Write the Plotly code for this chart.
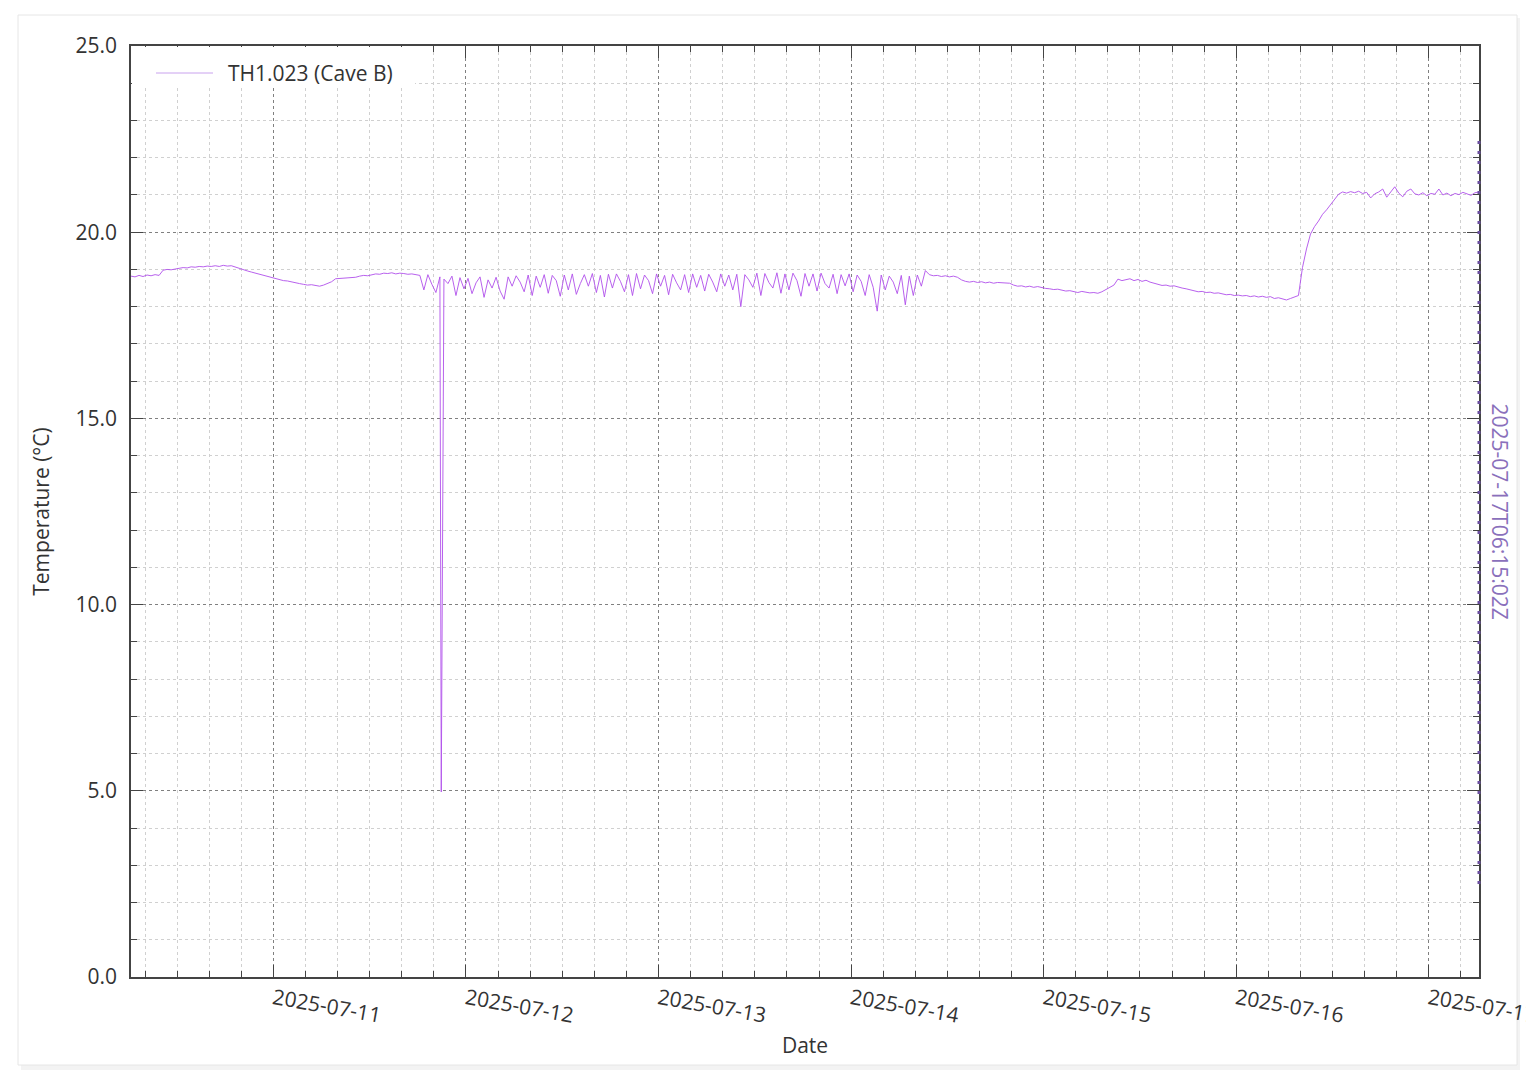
import pandas as pd
import plotly.graph_objects as go

# ---------------- data ----------------
series_name = "TH1.023 (Cave B)"
start_time = "2025-07-10T06:15:02"
end_time = "2025-07-17T06:15:02"
step = "30min"

# temperatures (°C), one reading every 30 minutes from start_time
temps = [
    # 07-10 06:15 ..
    18.82, 18.80, 18.84, 18.81, 18.85, 18.83, 18.86, 18.84, 18.98, 19.00, 18.99, 19.02,
    19.03, 19.05, 19.04, 19.07, 19.06, 19.08, 19.07, 19.09, 19.08, 19.10, 19.08, 19.11,
    19.09, 19.10, 19.06, 19.03, 19.00, 18.96, 18.93, 18.90, 18.88, 18.84, 18.82, 18.79,
    18.76, 18.74, 18.70, 18.69, 18.66, 18.65, 18.62, 18.60, 18.58, 18.59, 18.56, 18.55,
    18.58, 18.62, 18.67, 18.75, 18.76, 18.78, 18.77, 18.80, 18.79, 18.82, 18.84, 18.83,
    18.86, 18.88, 18.87, 18.90, 18.89, 18.91, 18.88, 18.90, 18.89, 18.87, 18.88, 18.86,
    # noisy section
    18.84, 18.45, 18.86, 18.60, 18.38, 18.80, 18.74, 18.62, 18.82, 18.30, 18.78, 18.48,
    18.76, 18.35, 18.64, 18.80, 18.25, 18.72, 18.50, 18.79, 18.42, 18.20, 18.80, 18.55,
    18.83, 18.66, 18.40, 18.85, 18.30, 18.82, 18.52, 18.86, 18.36, 18.84, 18.70, 18.28,
    18.85, 18.45, 18.88, 18.33, 18.62, 18.86, 18.55, 18.89, 18.38, 18.84, 18.26, 18.87,
    18.50, 18.88, 18.68, 18.40, 18.86, 18.30, 18.89, 18.48, 18.85, 18.70, 18.35, 18.88,
    18.55, 18.84, 18.32, 18.87, 18.64, 18.45, 18.86, 18.38, 18.88, 18.52, 18.84, 18.42,
    18.87, 18.66, 18.40, 18.88, 18.55, 18.85, 18.45, 18.87, 18.00, 18.86, 18.72, 18.52,
    18.90, 18.30, 18.89, 18.65, 18.50, 18.91, 18.36, 18.88, 18.45, 18.90, 18.70, 18.28,
    18.89, 18.55, 18.88, 18.42, 18.90, 18.62, 18.50, 18.87, 18.35, 18.86, 18.56, 18.88,
    18.40, 18.85, 18.68, 18.30, 18.86, 18.52, 17.88, 18.85, 18.45, 18.82, 18.66, 18.35,
    18.84, 18.05, 18.82, 18.30, 18.85, 18.55, 18.97, 18.86, 18.83, 18.84, 18.81, 18.83,
    18.80,
    # slow decline
    18.82, 18.79, 18.72, 18.68, 18.66, 18.68, 18.65, 18.67, 18.64, 18.66, 18.63, 18.65,
    18.64, 18.62, 18.63, 18.58, 18.55, 18.56, 18.53, 18.55, 18.52, 18.54, 18.51, 18.49,
    18.48, 18.46, 18.47, 18.44, 18.42, 18.43, 18.40, 18.38, 18.41, 18.39, 18.37, 18.38,
    18.36, 18.40, 18.45, 18.52, 18.58, 18.74, 18.70, 18.72, 18.75, 18.70, 18.73, 18.68,
    18.71, 18.66, 18.63, 18.60, 18.57, 18.58, 18.55, 18.56, 18.52, 18.50, 18.48, 18.45,
    18.42, 18.40, 18.41, 18.38, 18.39, 18.36, 18.37, 18.34, 18.32, 18.33, 18.30, 18.31,
    18.29, 18.30, 18.27, 18.29, 18.26, 18.28, 18.25, 18.27, 18.22, 18.24, 18.20, 18.18,
    # warm-up and plateau
    18.22, 18.27, 18.30, 19.05, 19.55, 19.95, 20.15, 20.30, 20.48, 20.60, 20.75, 20.90,
    21.02, 21.08, 21.05, 21.09, 21.06, 21.10, 21.04, 21.07, 20.92, 21.03, 21.08, 21.16,
    20.94, 21.08, 21.22, 21.05, 20.95, 21.10, 21.16, 21.03, 21.00, 21.06, 20.98, 21.04,
    21.02, 21.16, 21.00, 21.05, 20.98, 21.04, 21.01, 21.07, 21.03, 20.99, 21.06, 21.08,
]

# isolated sensor dropout
spike_times = ["2025-07-11T20:55:02"]
spike_temps = [4.97]

marker_time = "2025-07-17T06:15:02"
marker_label = "2025-07-17T06:15:02Z"
marker_range = [2.5, 22.5]

y_range = [0, 25]

# ---------------- build ----------------
times = pd.date_range(start_time, periods=len(temps), freq=step)
df = pd.DataFrame({"t": times, "v": temps})
df = pd.concat([df, pd.DataFrame({"t": pd.to_datetime(spike_times), "v": spike_temps})])
df = df.sort_values("t")

FONT = "Open Sans"
TXT = "#333333"
FS = 21

fig = go.Figure()
fig.add_trace(go.Scatter(
    x=df["t"], y=df["v"], mode="lines", name=series_name,
    line=dict(color="rgba(176, 80, 235, 0.9)", width=1),
    showlegend=False,
))

W, H = 1526, 1069
OFF = 8  # page body offset
ml, mr, mt, mb = 123, 55, 38, 100
pw, ph = W - ml - mr, H - mt - mb


def px_x(p):  # page pixel -> paper x
    return (p - OFF - ml) / pw


def px_y(p):  # page pixel -> paper y
    return (H - mb - (p - OFF)) / ph


# card background
fig.add_shape(type="rect", xref="paper", yref="paper",
              x0=px_x(21), x1=px_x(1520), y0=px_y(1070), y1=px_y(18),
              fillcolor="#f3f3f3", line=dict(width=0), layer="below")
fig.add_shape(type="rect", xref="paper", yref="paper",
              x0=px_x(18), x1=px_x(1517), y0=px_y(1065), y1=px_y(15),
              fillcolor="white", line=dict(color="#e6e6e6", width=1), layer="below")

# legend (box, line sample, label)
fig.add_shape(type="rect", xref="paper", yref="paper",
              x0=px_x(132), x1=px_x(415), y0=px_y(88), y1=px_y(47),
              fillcolor="white", line=dict(width=0), layer="above")
fig.add_shape(type="line", xref="paper", yref="paper",
              x0=px_x(156), x1=px_x(213), y0=px_y(73), y1=px_y(73),
              line=dict(color="#c9a2ee", width=1), layer="above")
fig.add_annotation(x=px_x(226), y=px_y(73), xref="paper", yref="paper",
                   text=series_name, showarrow=False, xanchor="left", yanchor="middle",
                   font=dict(family=FONT, size=FS, color=TXT))

# marker line (paper-referenced so it is not clipped at the plot edge)
t0, t1, tm = pd.Timestamp(start_time), pd.Timestamp(end_time), pd.Timestamp(marker_time)
mx = (tm - t0) / (t1 - t0)
my0 = (marker_range[0] - y_range[0]) / (y_range[1] - y_range[0])
my1 = (marker_range[1] - y_range[0]) / (y_range[1] - y_range[0])
fig.add_shape(type="line", xref="paper", yref="paper",
              x0=mx, x1=mx, y0=my0, y1=my1,
              line=dict(color="#6a4f9e", width=3, dash="3px,7px"), layer="above")
fig.add_annotation(x=mx, y=0.5, xref="paper", yref="paper",
                   text=marker_label, textangle=90, showarrow=False,
                   xanchor="left", yanchor="middle", xshift=5,
                   font=dict(family=FONT, size=FS, color="#8a70bb"))

axis_common = dict(
    showline=True, linecolor="#444444", linewidth=1.5, mirror="allticks",
    ticks="inside", ticklen=12, tickcolor="#444444", tickwidth=1,
    showgrid=True, gridcolor="#808080", griddash="dot", gridwidth=1,
    zeroline=False, automargin=False,
    tickfont=dict(family=FONT, size=FS, color=TXT),
)

fig.update_xaxes(
    **axis_common,
    type="date", range=[start_time, end_time],
    tick0="2025-07-10", dtick=86400000, tickformat="%Y-%m-%d", tickangle=10,
    ticklabeloverflow="allow",
    minor=dict(dtick=4 * 3600000, ticks="inside", ticklen=6, tickcolor="#444444",
               showgrid=True, gridcolor="#d0d0d0", griddash="dot", gridwidth=1),
    title=dict(text="Date", font=dict(family=FONT, size=FS, color=TXT), standoff=11),
)
fig.update_yaxes(
    **axis_common,
    range=y_range, dtick=5, tick0=0, tickformat=".1f", ticklabelstandoff=8,
    minor=dict(dtick=1, ticks="inside", ticklen=6, tickcolor="#444444",
               showgrid=True, gridcolor="#d0d0d0", griddash="dot", gridwidth=1),
    title=dict(text="Temperature (°C)", font=dict(family=FONT, size=FS, color=TXT), standoff=20),
)

fig.update_layout(
    width=W, height=H,
    margin=dict(l=ml, r=mr, t=mt, b=mb),
    paper_bgcolor="white", plot_bgcolor="rgba(0,0,0,0)",
    font=dict(family=FONT, size=FS, color=TXT),
    showlegend=False,
)

fig.write_html("out.html")
